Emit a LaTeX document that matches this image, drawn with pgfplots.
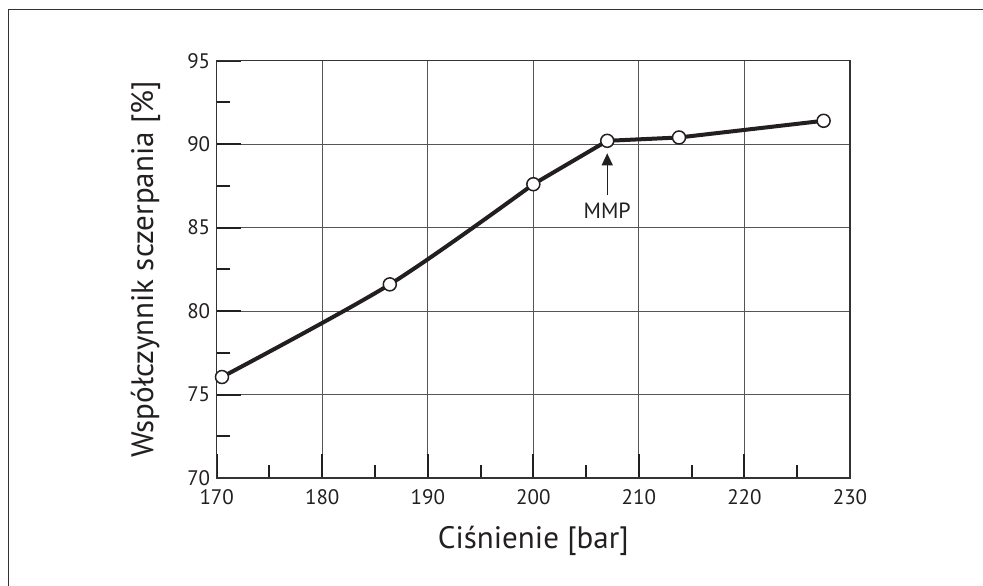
\documentclass[border=0pt]{standalone}
\usepackage{pgfplots}
\pgfplotsset{compat=1.18}
\usepackage{fontspec}
\setmainfont{PT Sans}
\usetikzlibrary{arrows.meta}

\definecolor{gridc}{HTML}{555555}
\definecolor{framec}{HTML}{333333}
\definecolor{inkc}{HTML}{231F20}

\begin{document}
\begin{tikzpicture}
% page = 983 x 586 px, 1px = 1pt, axis box at (0,0)
\path[use as bounding box] (-216.7pt,-108pt) rectangle (766.3pt,478pt);
\draw[framec, line width=1.6pt] (-208.2pt,-112pt) -- (-208.2pt,468.5pt) -- (770pt,468.5pt);
\begin{axis}[
    at={(0pt,0pt)}, anchor=south west,
    scale only axis,
    width=633.3pt, height=417.3pt,
    xmin=170, xmax=230, ymin=70, ymax=95,
    xtick={170,180,...,230}, ytick={70,75,...,95},
    minor xtick={175,185,...,225}, minor ytick={72.5,77.5,...,92.5},
    xtick pos=bottom, ytick pos=left,
    tick align=inside,
    major tick length=24pt, minor tick length=13pt,
    tick style={inkc, line width=2pt},
    grid=major,
    major grid style={gridc, line width=1pt},
    axis line style={framec, line width=1.6pt},
    ticklabel style={font=\fontsize{21}{25}\selectfont, text=inkc},
    xticklabel style={yshift=-8pt},
    yticklabel style={xshift=-3pt},
    /pgf/number format/assume math mode=true,
    xlabel={Ciśnienie [bar]},
    ylabel={Współczynnik sczerpania [\%]},
    every axis x label/.style={at={(axis description cs:0.5,-0.1701)}, anchor=base},
    every axis y label/.style={at={(axis description cs:-0.1003,0.5)}, rotate=90, anchor=base},
    label style={font=\fontsize{31}{37}\selectfont, text=inkc},
]
\addplot[inkc, line width=4pt, smooth, mark=none]
    coordinates {(170.5,76.05) (186.4,81.6) (200,87.6)};
\addplot[inkc, line width=4pt, mark=none]
    coordinates {(200,87.6) (207,90.2) (213.8,90.4) (227.5,91.4)};
\addplot[only marks, mark=*, mark size=6.5pt,
    mark options={fill=white, draw=inkc, line width=1.5pt}]
    coordinates {(170.5,76.05) (186.4,81.6) (200,87.6) (207,90.2) (213.8,90.4) (227.5,91.4)};
\draw[inkc, -{Triangle[length=12pt,width=11pt]}, line width=1.3pt]
    (axis cs:207,86.95) -- (axis cs:207,89.45);
\node[font=\fontsize{22}{26}\selectfont, text=inkc] at (axis cs:207,86) {MMP};
\end{axis}
\end{tikzpicture}
\end{document}
